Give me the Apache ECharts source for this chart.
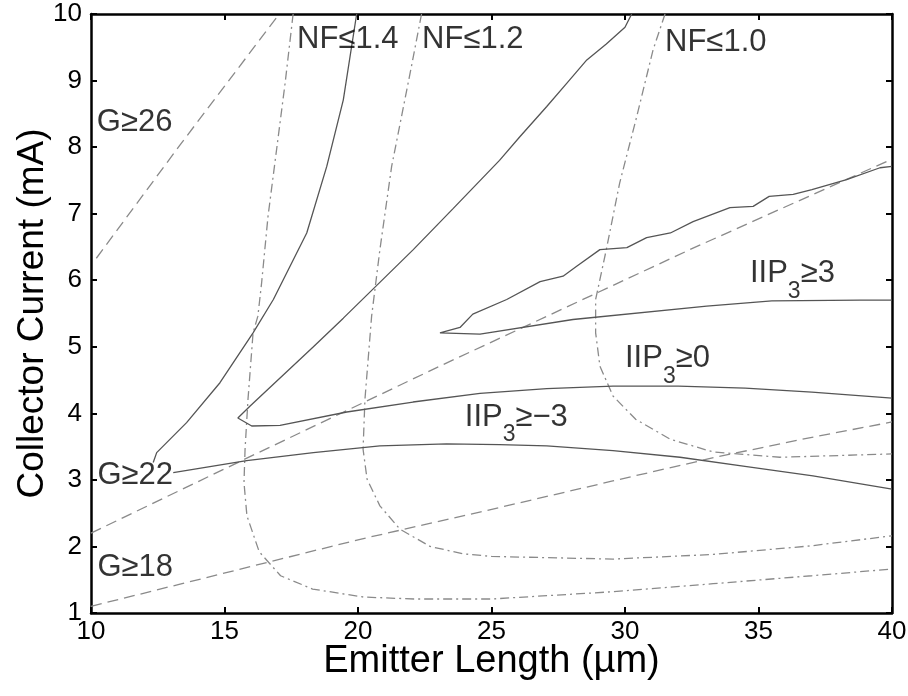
<!DOCTYPE html>
<html>
<head>
<meta charset="utf-8">
<script src="https://cdn.jsdelivr.net/npm/echarts@6/dist/echarts.min.js"></script>
<style>
  html, body { margin: 0; padding: 0; background: #fff; }
  #chart { width: 908px; height: 696px; }
</style>
</head>
<body>
<div id="chart"></div>
<script>
// Design-space contours: emitter length (µm) vs collector current (mA)
const xTicks = [10, 15, 20, 25, 30, 35, 40];
const yTicks = [1, 2, 3, 4, 5, 6, 7, 8, 9, 10];

// Gain boundaries (dB)
const gain26 = [[10.2, 6.33], [13.33, 8.03], [17.05, 10]];
const gain22 = [[10, 2.2], [15.7, 3.3], [23.07, 4.71], [32.43, 6.46], [40, 7.82]];
const gain18 = [[10, 1.1], [13.3, 1.43], [16.6, 1.76], [20, 2.1], [24.6, 2.52], [29.5, 2.98],
                [33.5, 3.35], [37, 3.64], [40, 3.87]];

// Noise-figure boundaries (dB)
const nf14 = [[17.57, 10], [17.27, 8.96], [16.95, 7.96], [16.63, 6.96], [16.39, 5.96], [16.25, 5.46],
              [16.07, 5.21], [15.88, 4.21], [15.77, 3.46], [15.73, 2.96], [15.84, 2.46], [16.3, 1.92],
              [17.1, 1.56], [18.3, 1.36], [20.2, 1.24], [22.1, 1.21], [25, 1.21], [29.55, 1.32],
              [33.3, 1.44], [37, 1.56], [40, 1.66]];
const nf12 = [[22.38, 10], [22.0, 9.21], [21.26, 7.71], [20.82, 6.46], [20.51, 5.46], [20.26, 4.21],
              [20.19, 3.46], [20.34, 3.01], [20.82, 2.61], [21.57, 2.26], [22.7, 2.0], [23.93, 1.89],
              [25, 1.85], [29.55, 1.81], [33.3, 1.88], [37, 2.01], [40, 2.16]];
const nf10 = [[31.5, 10], [31.05, 9.46], [30.44, 8.46], [29.8, 7.46], [29.3, 6.46], [28.9, 5.71],
              [28.9, 5.21], [29.06, 4.71], [29.55, 4.26], [30.4, 3.91], [31.7, 3.61], [33.3, 3.42],
              [35.8, 3.34], [40, 3.39]];

// Input-referred IP3 boundaries (dBm)
const iip3Plus3 = [[40, 7.71], [39.55, 7.69], [38.3, 7.51], [37.0, 7.36], [36.3, 7.29], [35.4, 7.26],
                   [34.8, 7.11], [33.93, 7.09], [32.55, 6.88], [31.7, 6.71], [30.81, 6.64], [30.07, 6.49],
                   [29.06, 6.46], [28.19, 6.21], [27.68, 6.06], [26.82, 5.98], [25.57, 5.71], [24.3, 5.49],
                   [23.82, 5.29], [23.07, 5.21], [24.57, 5.19], [28.05, 5.41], [33.06, 5.61], [35.5, 5.69],
                   [38.8, 5.70], [40, 5.70]];
const iip3Zero = [[30.25, 10], [30.0, 9.8], [29.3, 9.55], [28.57, 9.31], [27.8, 8.95], [27.07, 8.61],
                  [26.07, 8.16], [25.3, 7.8], [23.57, 7.08], [22.07, 6.46], [20.57, 5.87], [19.45, 5.43],
                  [18.33, 5.0], [17.08, 4.53], [15.96, 4.11], [15.5, 3.93], [16.02, 3.81], [17.08, 3.82],
                  [19.58, 4.02], [22.06, 4.17], [24.57, 4.3], [27.07, 4.37], [29.55, 4.41], [32.0, 4.41],
                  [34.5, 4.38], [37, 4.32], [40, 4.23]];
const iip3Minus3 = [[13.08, 3.11], [15.83, 3.29], [18.33, 3.41], [20.82, 3.51], [23.32, 3.54], [25.3, 3.53],
                    [27.07, 3.51], [29.55, 3.44], [32.06, 3.34], [34.56, 3.2], [37.04, 3.06], [40, 2.86]];
const iip3Edge = [[12.33, 3.26], [12.46, 3.41], [13.58, 3.86], [14.83, 4.46], [16.07, 5.21], [16.83, 5.71],
                  [18.08, 6.71], [18.83, 7.71], [19.45, 8.71], [19.95, 10]];

const FONT = '"Liberation Sans", Arial, Helvetica, sans-serif';
const SOLID = { color: '#555', width: 1.3, type: 'solid' };
const DASH = { color: '#8a8a8a', width: 1.3, type: [11, 6] };
const DASHDOT = { color: '#8a8a8a', width: 1.3, type: [9, 4, 2, 4] };

function contour(name, data, style) {
  return {
    type: 'line', name: name, data: data,
    xAxisIndex: 0, yAxisIndex: 0,
    showSymbol: false, symbol: 'none', silent: true,
    lineStyle: style, z: 3
  };
}

// Region annotations, anchored at the left edge of each text in data units
const annotations = [
  { text: 'NF≤1.4', at: [17.72, 9.625] },
  { text: 'NF≤1.2', at: [22.40, 9.625] },
  { text: 'NF≤1.0', at: [31.50, 9.58] },
  { text: 'G≥26', at: [10.22, 8.37] },
  { text: 'G≥22', at: [10.24, 3.06] },
  { text: 'G≥18', at: [10.24, 1.68] },
  { text: '{a|IIP}{s|3}{a|≥3}', at: [34.68, 6.0] },
  { text: '{a|IIP}{s|3}{a|≥0}', at: [30.0, 4.72] },
  { text: '{a|IIP}{s|3}{a|≥−3}', at: [24.0, 3.84] }
];

const axisCommon = {
  type: 'value',
  splitLine: { show: false },
  axisLine: { show: true, onZero: false, lineStyle: { color: '#000', width: 2.5 } },
  axisTick: { show: true, inside: true, length: 6, lineStyle: { color: '#000', width: 2 } }
};

const option = {
  animation: false,
  backgroundColor: '#fff',
  grid: { left: 91, right: 16, top: 14, bottom: 83, containLabel: false, outerBoundsMode: 'none' },
  xAxis: [
    Object.assign({}, axisCommon, {
      position: 'bottom', min: xTicks[0], max: xTicks[xTicks.length - 1], interval: 5,
      name: 'Emitter Length (µm)', nameLocation: 'middle', nameGap: 30, nameMoveOverlap: false,
      nameTextStyle: { color: '#000', fontSize: 38, fontFamily: FONT },
      axisLabel: { color: '#000', fontSize: 26, fontFamily: FONT, margin: 6 }
    }),
    Object.assign({}, axisCommon, {
      position: 'top', min: xTicks[0], max: xTicks[xTicks.length - 1], interval: 5,
      axisLabel: { show: false }
    })
  ],
  yAxis: [
    Object.assign({}, axisCommon, {
      position: 'left', min: yTicks[0], max: yTicks[yTicks.length - 1], interval: 1,
      name: 'Collector Current (mA)', nameLocation: 'middle', nameGap: 40, nameMoveOverlap: false,
      nameTextStyle: { color: '#000', fontSize: 37, fontFamily: FONT },
      axisLabel: { color: '#000', fontSize: 26, fontFamily: FONT, margin: 9, padding: [6, 0, 0, 0] }
    }),
    Object.assign({}, axisCommon, {
      position: 'right', min: yTicks[0], max: yTicks[yTicks.length - 1], interval: 1,
      axisLabel: { show: false }
    })
  ],
  series: [
    contour('G≥26', gain26, DASH),
    contour('G≥22', gain22, DASH),
    contour('G≥18', gain18, DASH),
    contour('NF≤1.4', nf14, DASHDOT),
    contour('NF≤1.2', nf12, DASHDOT),
    contour('NF≤1.0', nf10, DASHDOT),
    contour('IIP3≥3', iip3Plus3, SOLID),
    contour('IIP3≥0', iip3Zero, SOLID),
    contour('IIP3≥−3', iip3Minus3, SOLID),
    contour('IIP3 edge', iip3Edge, SOLID),
    {
      type: 'scatter', name: 'labels', silent: true, z: 5,
      xAxisIndex: 0, yAxisIndex: 0,
      symbolSize: 0,
      data: annotations.map(a => ({ value: a.at, label: { formatter: a.text } })),
      label: {
        show: true, position: 'right', distance: 0,
        color: '#000', fontSize: 31, fontFamily: FONT,
        rich: {
          a: { color: '#000', fontSize: 31, lineHeight: 31, fontFamily: FONT, padding: [0, 0, 14, 0] },
          s: { color: '#000', fontSize: 23, lineHeight: 23, fontFamily: FONT, padding: [22, 0, 0, 0] }
        }
      }
    }
  ]
};

const chart = echarts.init(document.getElementById('chart'), null, { renderer: 'canvas' });
chart.setOption(option);
</script>
</body>
</html>
